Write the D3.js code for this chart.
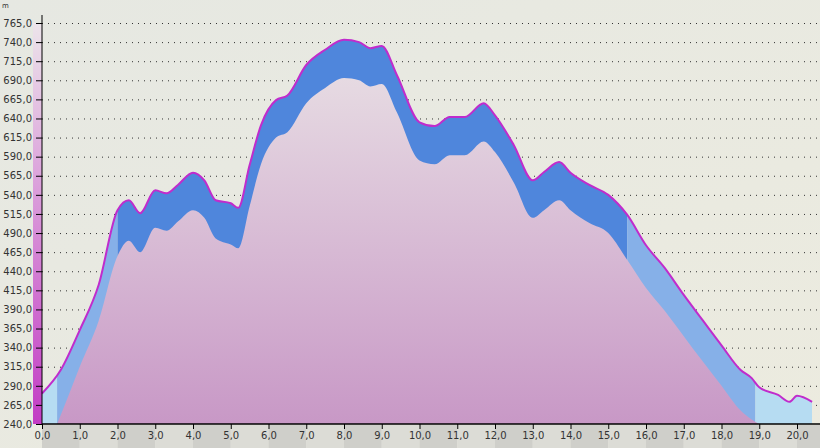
<!DOCTYPE html>
<html><head><meta charset="utf-8">
<script src="https://cdn.jsdelivr.net/npm/d3@7"></script>
<style>body{margin:0;background:#e9e9e1}text{font-family:"DejaVu Sans",sans-serif;font-size:10px;fill:#333}</style>
</head><body><svg width="820" height="448"></svg>
<script>
const km =        [0,0.5,1.0,1.5,2.0,2.3,2.6,3.0,3.3,3.6,4.0,4.3,4.6,5.0,5.2,5.5,5.8,6.2,6.5,7.0,7.5,8.0,8.4,8.7,9.0,9.4,10.0,10.4,10.8,11.2,11.7,12.0,12.5,13.0,13.3,13.7,14.0,14.5,15.0,15.5,16.0,16.5,17.0,17.5,18.0,18.5,18.8,19.0,19.5,19.8,20.0,20.4];
const elevation = [280,311,363,422,520,533,516,546,542,553,569,559,533,529,523,579,631,664,670,710,730,743,740,732,735,697,635,630,642,642,660,644,605,559,570,583,569,553,540,514,474,444,409,376,343,311,300,288,278,269,277,269];
const lowerKm =   [0.4,0.5,1.0,1.5,2.0,2.3,2.6,3.0,3.3,3.6,4.0,4.3,4.6,5.0,5.2,5.5,5.8,6.2,6.5,7.0,7.5,8.0,8.4,8.7,9.0,9.4,10.0,10.4,10.8,11.2,11.7,12.0,12.5,13.0,13.3,13.7,14.0,14.5,15.0,15.5,16.0,16.5,17.0,17.5,18.0,18.5,18.8,19.0];
const lower =     [240,252,315,375,460,480,465,497,493,505,520,510,483,475,470,525,580,615,622,660,680,693,690,682,685,648,585,580,592,592,610,596,556,510,520,533,520,503,490,455,418,388,355,322,290,258,246,240];
const segments = [[0,0.4,"#b6dcf2"],[0.4,2.0,"#86b0e8"],[2.0,15.5,"#4f86dc"],[15.5,18.9,"#86b0e8"],[18.9,20.4,"#b6dcf2"]];
const yTicks = d3.range(240, 766, 25);
const xTicks = d3.range(0, 21, 1);

const svg = d3.select("svg");
const x = d3.scaleLinear().domain([0, 20]).range([42, 797]);
const y = d3.scaleLinear().domain([240, 765]).range([424, 23]);

const defs = svg.append("defs");
const bg = defs.append("linearGradient").attr("id","bg").attr("x1",0).attr("x2",1).attr("y1",0).attr("y2",1);
bg.append("stop").attr("offset",0).attr("stop-color","#e6e8e2");
bg.append("stop").attr("offset",1).attr("stop-color","#ecebdf");
const pk = defs.append("linearGradient").attr("id","pk").attr("x1",0).attr("x2",0).attr("y1",0).attr("y2",1);
pk.append("stop").attr("offset",0).attr("stop-color","#e6dae2");
pk.append("stop").attr("offset",1).attr("stop-color","#c898c6");
const side = defs.append("linearGradient").attr("id","side").attr("x1",0).attr("x2",0).attr("y1",0).attr("y2",1);
side.append("stop").attr("offset",0).attr("stop-color","#ece4ea");
side.append("stop").attr("offset",1).attr("stop-color","#c23cc4");

svg.append("rect").attr("width",820).attr("height",448).attr("fill","url(#bg)");
svg.append("rect").attr("x",33).attr("y",y(765)).attr("width",9).attr("height",y(240)-y(765)).attr("fill","url(#side)");

// axis strip bands
svg.append("g").selectAll("rect").data(xTicks).enter().append("rect")
  .attr("x", d => x(d)).attr("y", 425).attr("width", x(1)-x(0)).attr("height", 23)
  .attr("fill", (d,i) => i % 2 ? "#dcdcd6" : "#cfcfca");

// grid
svg.append("g").selectAll("line").data(yTicks.slice(1)).enter().append("line")
  .attr("x1", 42).attr("x2", 820).attr("y1", d => y(d)+0.5).attr("y2", d => y(d)+0.5)
  .attr("stroke","#333").attr("stroke-dasharray","1,5");

const pts = km.map((k,i) => [k, elevation[i]]);
const lowPts = lowerKm.map((k,i) => [k, lower[i]]);
const area = d3.area().x(d => x(d[0])).y0(y(240)).y1(d => y(d[1])).curve(d3.curveMonotoneX);

segments.forEach((s, i) => {
  defs.append("clipPath").attr("id","c"+i).append("rect")
    .attr("x", x(s[0])).attr("width", x(s[1])-x(s[0])).attr("y",0).attr("height",448);
  svg.append("path").datum(pts).attr("d", area).attr("fill", s[2]).attr("clip-path","url(#c"+i+")");
});
svg.append("path").datum(lowPts).attr("d", area).attr("fill","url(#pk)");
svg.append("path").datum(pts)
  .attr("d", d3.line().x(d => x(d[0])).y(d => y(d[1])).curve(d3.curveMonotoneX))
  .attr("fill","none").attr("stroke","#c02ccc").attr("stroke-width",2);

// axes
const fmt = d => d3.format(".1f")(d).replace(".", ",");
svg.append("g").attr("transform","translate(42,0)")
  .call(d3.axisLeft(y).tickValues(yTicks).tickFormat(fmt).tickSize(6).tickPadding(4))
  .call(g => g.select(".domain").attr("d","M0,15V425"))
  .call(g => g.selectAll("line,path").attr("stroke","#000"));
svg.append("g").attr("transform","translate(0,424)")
  .call(d3.axisBottom(x).tickValues(xTicks).tickFormat(fmt).tickSize(5).tickPadding(3))
  .call(g => g.select(".domain").attr("d","M42,0H820").attr("stroke-width",1.5))
  .call(g => g.selectAll("line,path").attr("stroke","#000"));
svg.append("text").attr("x",2).attr("y",8).style("font-size","7px").text("m");
</script></body></html>
